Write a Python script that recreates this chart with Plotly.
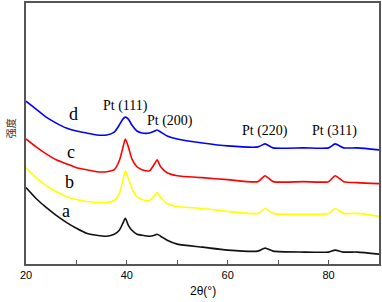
import plotly.graph_objects as go

# 2θ sample positions (degrees)
two_theta = [20, 22, 24, 26, 28, 30, 32, 34, 36, 37.5, 38.5, 39.2, 39.7, 40.3, 41, 42, 43,
             44.5, 45.5, 46, 46.7, 48, 50, 55, 60, 66, 67.4, 69, 75, 80, 81.3, 83, 85.7, 90]

# intensities (arbitrary units)
int_a = [77, 66, 57, 49, 42, 36, 31, 29, 28, 30, 34, 41, 46, 39, 34, 30, 29,
         28, 29, 30, 28, 24, 20, 17, 14, 13, 16, 13, 12, 12, 14, 12, 12, 10]
int_b = [97, 87, 79, 73, 68, 65, 63, 62, 62, 64, 71, 84, 94, 86, 76, 68, 65,
         64, 69, 72, 67, 61, 58, 56, 53, 51, 56, 51, 50, 51, 56, 51, 51, 48]
int_c = [126, 118, 111, 105, 101, 97, 95, 93, 93, 95, 104, 117, 126, 118, 106, 98, 95,
         94, 101, 105, 98, 92, 89, 87, 85, 83, 89, 83, 83, 83, 89, 83, 82, 81]
int_d = [164, 156, 148, 142, 137, 134, 132, 130, 130, 133, 140, 146, 148, 146, 140, 134, 132,
         132, 134, 135, 133, 129, 126, 122, 119, 118, 121, 117, 117, 117, 121, 117, 117, 115]

series = [("a", int_a, "#111111"), ("b", int_b, "#ffff00"),
          ("c", int_c, "#ff0000"), ("d", int_d, "#0000ff")]

# labels
curve_labels = ["a", "b", "c", "d"]
label_x = [28.0, 28.6, 29.0, 29.4]
label_y = [53, 83, 113, 151]
peak_labels = ["Pt (111)", "Pt (200)", "Pt (220)", "Pt (311)"]
peak_x = [39.7, 48.6, 67.4, 81.1]
peak_y = [159, 144, 134, 134]

fig = go.Figure()
for name, vals, col in series:
    fig.add_trace(go.Scatter(x=two_theta, y=vals, mode="lines", name=name,
                             line=dict(color=col, width=1.6, shape="spline", smoothing=0.6),
                             showlegend=False))

for t, x, y in zip(curve_labels, label_x, label_y):
    fig.add_annotation(x=x, y=y, text=t, showarrow=False,
                       font=dict(family="Liberation Serif", size=18, color="black"))
for t, x, y in zip(peak_labels, peak_x, peak_y):
    fig.add_annotation(x=x, y=y, text=t, showarrow=False,
                       font=dict(family="Liberation Serif", size=14, color="black"))

fig.add_annotation(xref="paper", yref="paper", x=-0.072, y=0.52, text="强度", textangle=-90,
                   showarrow=False, font=dict(family="Noto Sans CJK SC", size=10, color="#333"))
fig.add_annotation(xref="paper", yref="paper", x=0.5, y=-0.105, yanchor="middle", text="2θ(°)",
                   showarrow=False, font=dict(family="Liberation Sans", size=12, color="black"))

fig.update_layout(
    width=382, height=302,
    margin=dict(l=26, r=3, t=1, b=38),
    paper_bgcolor="white", plot_bgcolor="white",
    xaxis=dict(range=[20, 90], tickvals=[20, 40, 60, 80], ticks="inside", ticklen=4,
               tickcolor="#555", minor=dict(tickvals=[30, 50, 70], ticks="inside", ticklen=4, tickcolor="#555"),
               showgrid=False, zeroline=False, showline=True, linecolor="#555", linewidth=1.5,
               mirror=True, tickfont=dict(family="Liberation Sans", size=11, color="black")),
    yaxis=dict(range=[0, 263], showticklabels=False, ticks="", showgrid=False, zeroline=False,
               showline=True, linecolor="#555", linewidth=1.5, mirror=True),
)

fig.write_html("out.html", config={"displayModeBar": False},
               post_script="document.body.style.margin='0';document.body.style.overflow='hidden';")
